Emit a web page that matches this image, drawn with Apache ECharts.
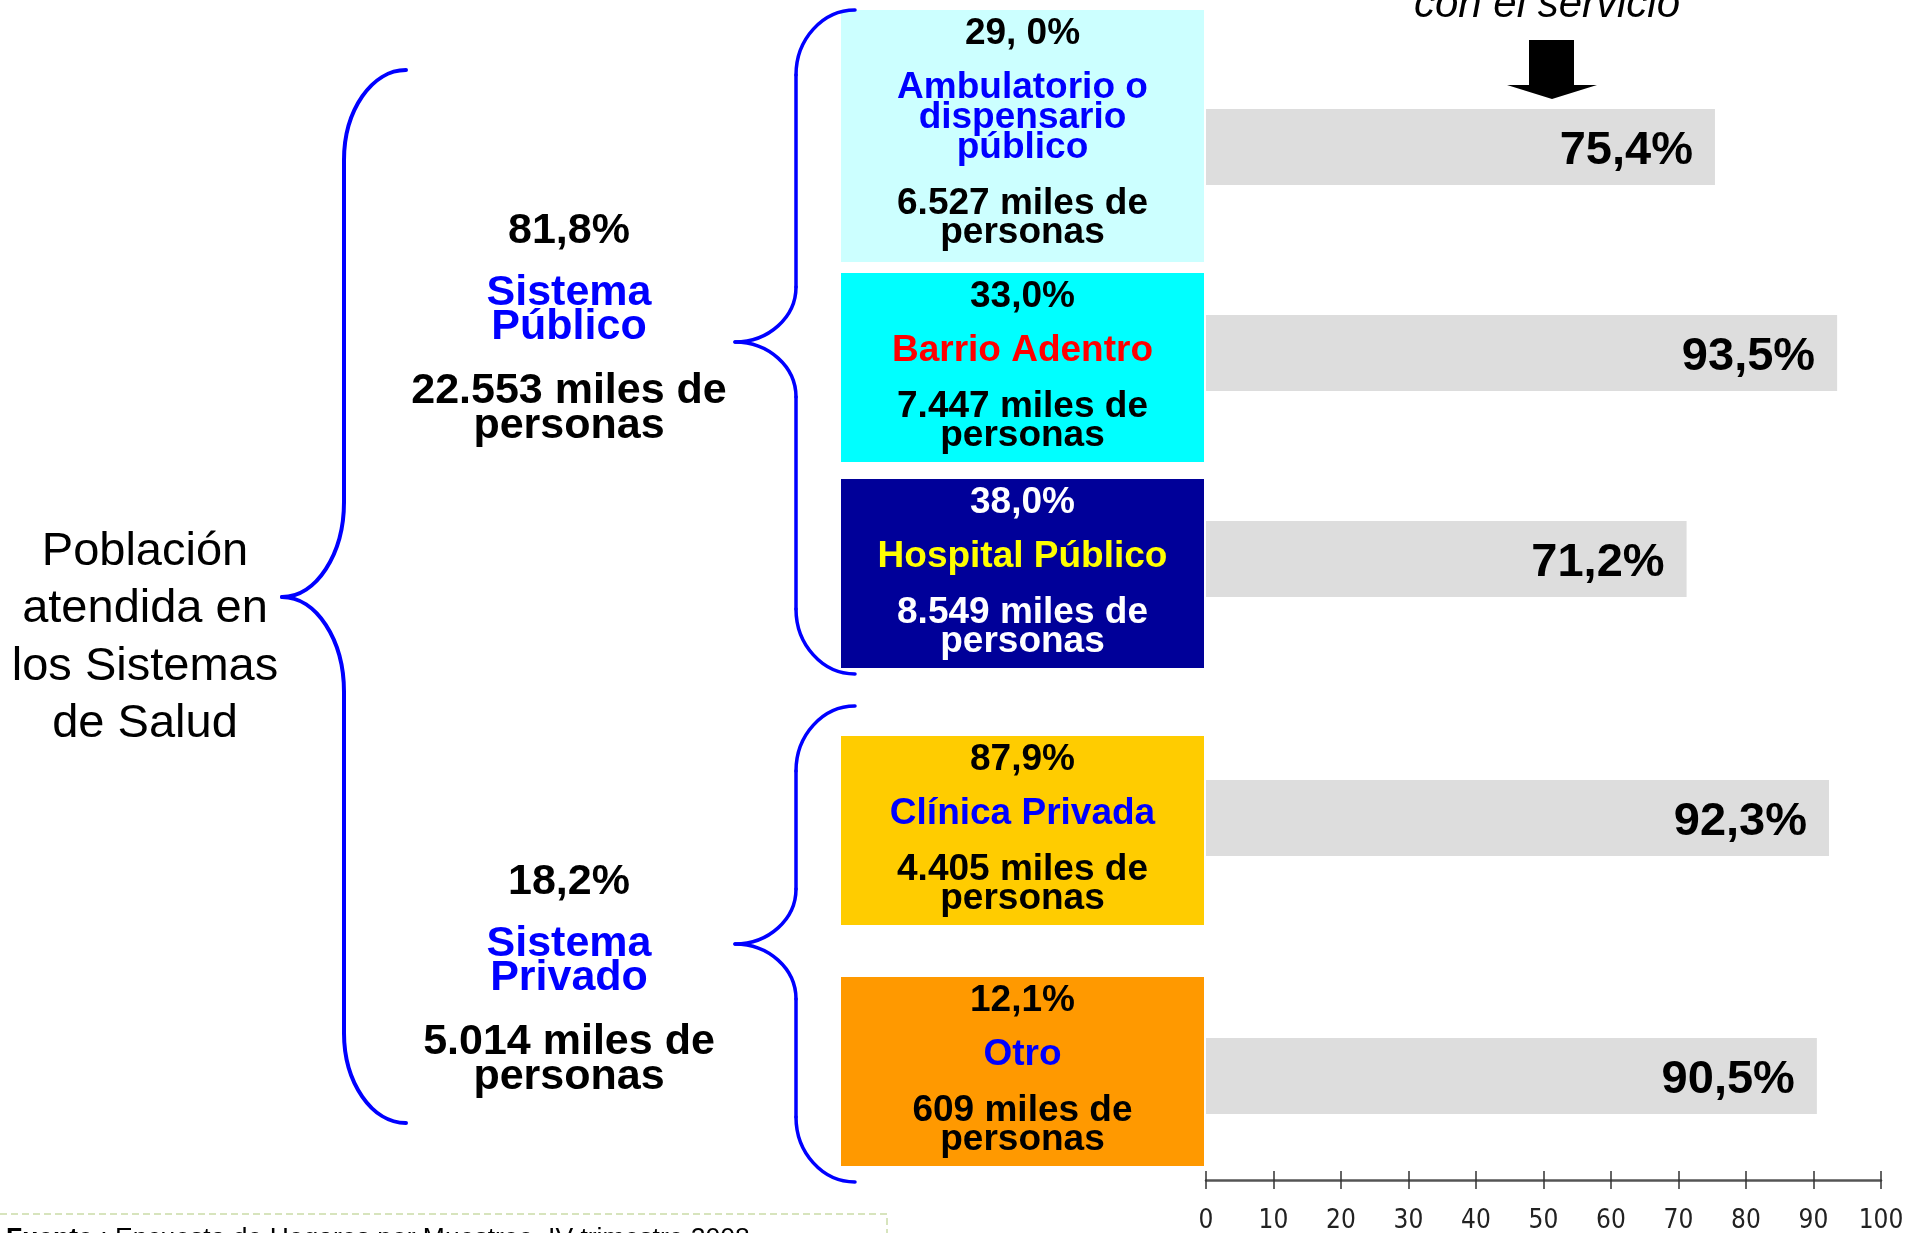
<!DOCTYPE html>
<html>
<head>
<meta charset="utf-8">
<script src="https://cdn.jsdelivr.net/npm/echarts@6/dist/echarts.min.js"></script>
<style>
  html, body { margin: 0; padding: 0; background: #ffffff; }
  #chart { width: 1914px; height: 1233px; }
</style>
</head>
<body>
<div id="chart"></div>
<script>
// ---------- data ----------
const serviceNames = ['Ambulatorio o\ndispensario\npúblico', 'Barrio Adentro', 'Hospital Público', 'Clínica Privada', 'Otro'];
const serviceShareLabels = ['29, 0%', '33,0%', '38,0%', '87,9%', '12,1%'];
const servicePersons = [6527, 7447, 8549, 4405, 609];
const satisfaction = [75.4, 93.5, 71.2, 92.3, 90.5];
const systemNames = ['Sistema\nPúblico', 'Sistema\nPrivado'];
const systemShares = [81.8, 18.2];
const systemPersons = [22553, 5014];
const systemSizes = [3, 2];
const totalLabel = ['Población', 'atendida en', 'los Sistemas', 'de Salud'];
const topNote = 'con el servicio';
const sourceNote = 'Fuente';
const sourceText = ' : Encuesta de Hogares por Muestreo, IV trimestre 2008';

// ---------- styles / layout ----------
const FONT = '"Liberation Sans", Arial, Helvetica, sans-serif';
const NARROW = '"Liberation Sans Narrow", "Arial Narrow", "DejaVu Sans Condensed", sans-serif';
const boxFill = ['#CCFFFF', '#00FFFF', '#000099', '#FFCC00', '#FF9900'];
const boxTitleColor = ['#0000FF', '#FF0000', '#FFFF00', '#0000FF', '#0000FF'];
const boxTextColor = ['#000000', '#000000', '#FFFFFF', '#000000', '#000000'];
const boxTop = [10, 273, 479, 736, 977];
const boxHeight = [252, 189, 189, 189, 189];
const BOX_X = 841, BOX_W = 363;
const BLUE = '#0000FF';

const fmtThousands = n => String(n).replace(/\B(?=(\d{3})+(?!\d))/g, '.');
const fmtPct = v => v.toFixed(1).replace('.', ',') + '%';

function txt(x, y, text, size, color, bold) {
  return {
    type: 'text', x: x, y: y, silent: true, z: 10,
    style: {
      text: text,
      font: (bold ? 'bold ' : '') + size + 'px ' + FONT,
      fill: color,
      align: 'center',
      verticalAlign: 'middle'
    }
  };
}

const graphics = [];

// service boxes
const cx = BOX_X + BOX_W / 2;
serviceNames.forEach((name, i) => {
  const top = boxTop[i];
  graphics.push({
    type: 'rect', silent: true, z: 5,
    shape: { x: BOX_X, y: top, width: BOX_W, height: boxHeight[i] },
    style: { fill: boxFill[i] }
  });
  graphics.push(txt(cx, top + 24, serviceShareLabels[i], 37, boxTextColor[i], true));
  const lines = name.split('\n');
  let y = top + 78;
  lines.forEach((ln, k) => {
    if (k > 0) y += 30;
    graphics.push(txt(cx, y, ln, 37, boxTitleColor[i], true));
  });
  y += 55.5;
  graphics.push(txt(cx, y, fmtThousands(servicePersons[i]) + ' miles de', 37, boxTextColor[i], true));
  graphics.push(txt(cx, y + 29.5, 'personas', 37, boxTextColor[i], true));
});

// system labels
const sysTop = [231, 882];
systemNames.forEach((name, i) => {
  const t = sysTop[i];
  const sx = 569;
  graphics.push(txt(sx, t, fmtPct(systemShares[i]), 43, '#000', true));
  const lines = name.split('\n');
  graphics.push(txt(sx, t + 62, lines[0], 43, BLUE, true));
  graphics.push(txt(sx, t + 96, lines[1], 43, BLUE, true));
  graphics.push(txt(sx, t + 160, fmtThousands(systemPersons[i]) + ' miles de', 43, '#000', true));
  graphics.push(txt(sx, t + 195, 'personas', 43, '#000', true));
});

// total label
const totalY = [552, 609, 667, 724];
totalLabel.forEach((ln, i) => graphics.push(txt(145, totalY[i], ln, 47, '#000', false)));

// braces: end x, spine x, tip x, top y, tip y, bottom y, end curve height, tip curve height
function brace(endX, spineX, tipX, topY, tipY, botY, endH, tipH, w) {
  const st = { stroke: BLUE, lineWidth: w, fill: null, lineCap: 'round' };
  const k = 0.55;
  const dxE = endX - spineX, dxT = spineX - tipX;
  const bz = (x1, y1, c1x, c1y, c2x, c2y, x2, y2) => ({
    type: 'bezierCurve', silent: true, z: 6,
    shape: { x1: x1, y1: y1, cpx1: c1x, cpy1: c1y, cpx2: c2x, cpy2: c2y, x2: x2, y2: y2 },
    style: st
  });
  const ln = (x1, y1, x2, y2) => ({
    type: 'line', silent: true, z: 6,
    shape: { x1: x1, y1: y1, x2: x2, y2: y2 }, style: st
  });
  return [
    bz(endX, topY, endX - k * dxE, topY, spineX, topY + endH - k * endH, spineX, topY + endH),
    ln(spineX, topY + endH, spineX, tipY - tipH),
    bz(spineX, tipY - tipH, spineX, tipY - tipH + k * tipH, tipX + k * dxT, tipY, tipX, tipY),
    bz(tipX, tipY, tipX + k * dxT, tipY, spineX, tipY + tipH - k * tipH, spineX, tipY + tipH),
    ln(spineX, tipY + tipH, spineX, botY - endH),
    bz(spineX, botY - endH, spineX, botY - endH + k * endH, endX - k * dxE, botY, endX, botY)
  ];
}
graphics.push(...brace(406, 344, 282, 70, 597, 1123, 90, 95, 4));
graphics.push(...brace(855, 796, 735, 10, 342, 674, 65, 55, 3.5));
graphics.push(...brace(855, 796, 735, 706, 944, 1182, 65, 55, 3.5));

// top note and arrow
graphics.push({
  type: 'text', x: 1547, y: 5, silent: true, z: 10,
  style: { text: topNote, font: 'italic 42px ' + FONT, fill: '#000', align: 'center', verticalAlign: 'middle' }
});
graphics.push({
  type: 'polygon', silent: true, z: 10,
  shape: { points: [[1529, 40], [1574, 40], [1574, 85], [1597, 85], [1552, 99], [1507, 85], [1529, 85]] },
  style: { fill: '#000' }
});

// footer
graphics.push({
  type: 'polyline', silent: true, z: 4,
  shape: { points: [[0, 1214], [887, 1214], [887, 1240]] },
  style: { stroke: '#D7E4BD', lineWidth: 2, lineDash: [7, 4], fill: null }
});
graphics.push({
  type: 'text', x: 6, y: 1239, silent: true, z: 10,
  style: {
    text: '{b|' + sourceNote + '}' + sourceText,
    font: '26.5px ' + FONT, fill: '#000', align: 'left', verticalAlign: 'middle',
    rich: { b: { fontWeight: 'bold', fontSize: 26.5, fontFamily: FONT, fill: '#000' } }
  }
});

// ---------- chart ----------
const pubNames = serviceNames.slice(0, systemSizes[0]).map(s => s.replace(/\n/g, ' '));
const privNames = serviceNames.slice(systemSizes[0]).map(s => s.replace(/\n/g, ' '));

const barLabel = {
  show: true, position: 'insideRight', distance: 22, offset: [0, 4],
  fontSize: 47, fontWeight: 'bold', fontFamily: FONT, color: '#000',
  formatter: p => fmtPct(p.value)
};

const chart = echarts.init(document.getElementById('chart'), null, { renderer: 'canvas' });
chart.setOption({
  animation: false,
  backgroundColor: '#ffffff',
  textStyle: { fontFamily: FONT },
  grid: [
    { left: 1206, width: 675, top: 44, height: 618, outerBoundsMode: 'none', containLabel: false },
    { left: 1206, width: 675, top: 689, height: 516, outerBoundsMode: 'none', containLabel: false }
  ],
  xAxis: [
    { type: 'value', gridIndex: 0, min: 0, max: 100, interval: 10, show: false },
    {
      type: 'value', gridIndex: 1, min: 0, max: 100, interval: 10, position: 'bottom', offset: -25,
      axisLine: { show: true, lineStyle: { color: '#555', width: 2.5 } },
      axisTick: { show: true, length: 9, inside: false, lineStyle: { color: '#333', width: 1.5 } },
      axisLabel: { show: true, margin: 28, fontSize: 26, fontFamily: NARROW, color: '#222' },
      splitLine: { show: false }
    },
    {
      type: 'value', gridIndex: 1, min: 0, max: 100, interval: 10, position: 'bottom', offset: -25,
      axisLine: { show: false },
      axisTick: { show: true, length: 9, inside: true, lineStyle: { color: '#333', width: 1.5 } },
      axisLabel: { show: false },
      splitLine: { show: false }
    }
  ],
  yAxis: [
    { type: 'category', gridIndex: 0, data: pubNames, inverse: true, show: false },
    { type: 'category', gridIndex: 1, data: privNames, inverse: true, show: false }
  ],
  series: [
    {
      type: 'bar', xAxisIndex: 0, yAxisIndex: 0, barWidth: 76,
      data: satisfaction.slice(0, systemSizes[0]),
      itemStyle: { color: '#DDDDDD' }, label: barLabel, silent: true
    },
    {
      type: 'bar', xAxisIndex: 1, yAxisIndex: 1, barWidth: 76,
      data: satisfaction.slice(systemSizes[0]),
      itemStyle: { color: '#DDDDDD' }, label: barLabel, silent: true
    }
  ],
  graphic: { elements: graphics }
});
</script>
</body>
</html>
